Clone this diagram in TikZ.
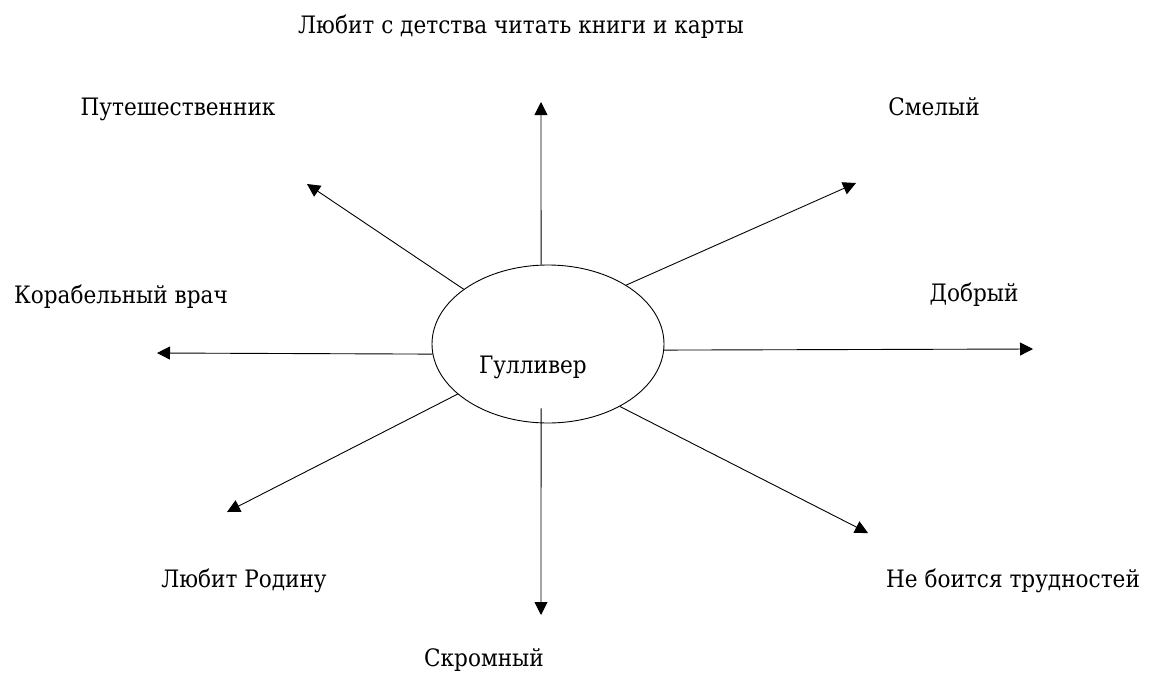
\documentclass[tikz,border=0pt]{standalone}
\usepackage{fontspec}
\setmainfont{DejaVu Serif}[FakeStretch=0.9]
\usetikzlibrary{arrows.meta,shapes.geometric}

\begin{document}
\begin{tikzpicture}[x=1pt,y=-1pt,
  lbl/.style={anchor=base,inner sep=0pt,font=\fontsize{24}{24}\selectfont},
  ray/.style={line width=0.9pt,-{Triangle[length=13pt,width=13pt]}}]
  \useasboundingbox (0,0) rectangle (1151,675);
  \node[draw,ellipse,line width=0.9pt,minimum width=232pt,minimum height=158pt] (g) at (548,344) {};
  \node[lbl] (name) at (533,373) {Гулливер};
  \node[lbl] (books) at (521,33) {Любит с детства читать книги и карты};
  \node[lbl] (travel) at (178,115) {Путешественник};
  \node[lbl] (brave) at (934,115) {Смелый};
  \node[lbl] (doctor) at (121,303) {Корабельный врач};
  \node[lbl] (kind) at (974,301) {Добрый};
  \node[lbl] (home) at (244,587) {Любит Родину};
  \node[lbl] (fear) at (1013,587) {Не боится трудностей};
  \node[lbl] (modest) at (484,666) {Скромный};
  \coordinate (tbooks) at (541,102);
  \coordinate (tbrave) at (856,183);
  \coordinate (tkind) at (1033,349);
  \coordinate (tfear) at (868,533);
  \coordinate (tmodest) at (541,615);
  \coordinate (thome) at (227,512);
  \coordinate (tdoctor) at (157,353);
  \coordinate (ttravel) at (307,184);
  \draw[ray] (g.95) -- (tbooks);
  \draw[ray] (g.37) -- (tbrave);
  \draw[ray] (g.-3) -- (tkind);
  \draw[ray] (g.-41) -- (tfear);
  \draw[ray,shorten <=-15pt] (g.265) -- (tmodest);
  \draw[ray] (g.209) -- (thome);
  \draw[ray] (g.185) -- (tdoctor);
  \draw[ray] (g.147) -- (ttravel);
\end{tikzpicture}
\end{document}
